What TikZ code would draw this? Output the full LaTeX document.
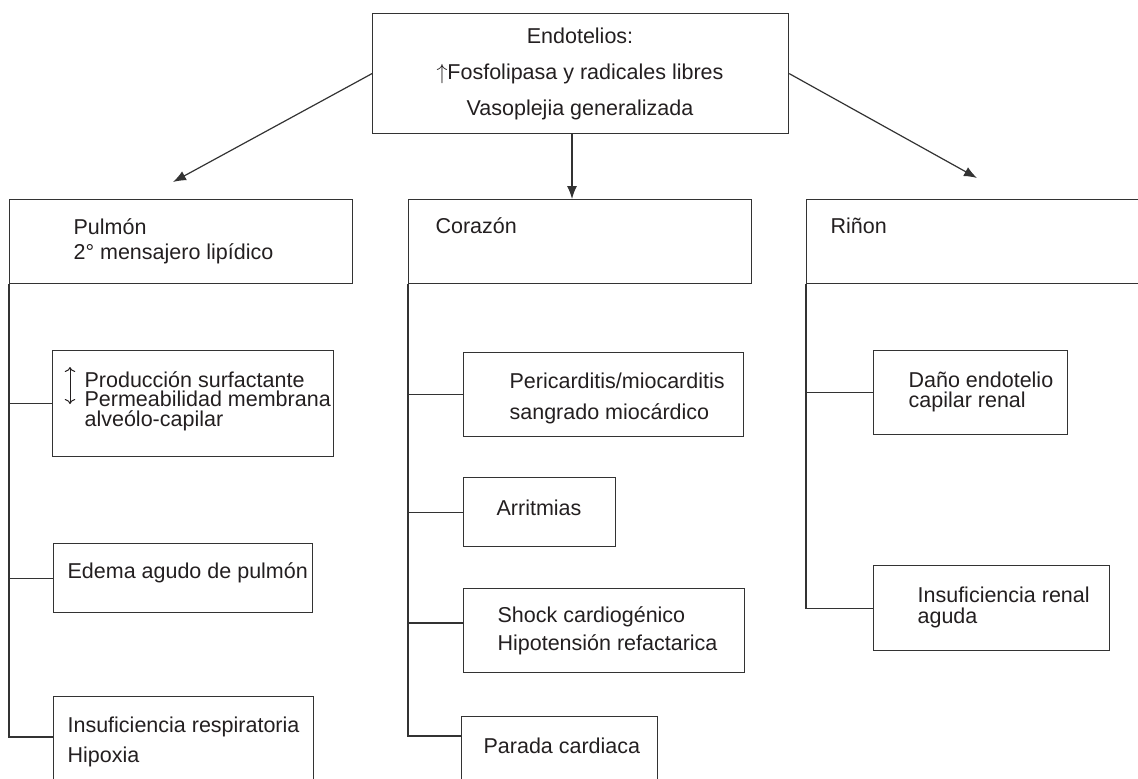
\documentclass[tikz,border=0pt]{standalone}
\usepackage{fontspec}
\setmainfont{Liberation Sans}
\usetikzlibrary{calc}
\usetikzlibrary{arrows.meta}
\usetikzlibrary{positioning}
\definecolor{LineGray}{HTML}{333333}
\definecolor{TextGray}{HTML}{231F20}
\tikzset{
  caja/.style={draw=LineGray, rectangle, inner sep=0pt, anchor=north west},
  texto/.style={font=\fontsize{10.75pt}{#1}\selectfont, text=TextGray,
    align=left, inner sep=0pt, anchor=base west},
  enlace/.style={draw=LineGray, line width=0.6pt},
  flecha/.style={enlace, -{Latex[length=6.5pt,width=5pt]}},
}

\begin{document}
\begin{tikzpicture}[x=0.5pt, y=-0.5pt, line width=0.6pt]
  \useasboundingbox (0,0) rectangle (1138,778);
  \clip (0,0) rectangle (1138,778);

  % cajas
  \node[caja, minimum width=208pt, minimum height=60pt] (endo) at (372,13) {};
  \node[caja, minimum width=171.5pt, minimum height=42pt] (pulmon) at (9,199) {};
  \node[caja, minimum width=171.5pt, minimum height=42pt] (corazon) at (408,199) {};
  \node[caja, minimum width=200pt, minimum height=42pt] (rinon) at (806,199) {};

  \node[caja, minimum width=140.5pt, minimum height=53pt] (surf) at (52,350) {};
  \node[caja, minimum width=129.5pt, minimum height=34.5pt] (edema) at (53,543) {};
  \node[caja, minimum width=130pt, minimum height=50pt] (insresp) at (53,696) {};

  \node[caja, minimum width=140pt, minimum height=42pt] (peri) at (463,352) {};
  \node[caja, minimum width=76pt, minimum height=34.5pt] (arrit) at (463,477) {};
  \node[caja, minimum width=140.5pt, minimum height=42pt] (shock) at (463,588) {};
  \node[caja, minimum width=98pt, minimum height=50pt] (parada) at (461,716) {};

  \node[caja, minimum width=97pt, minimum height=42pt] (dano) at (873,350) {};
  \node[caja, minimum width=118pt, minimum height=42.5pt] (insren) at (873,565) {};

  % textos (base = last line)
  \node[texto=18pt, align=center, anchor=base] (endoTxt) at (580,115)
    {Endotelios:\\$\uparrow$Fosfolipasa y radicales libres\\Vasoplejia generalizada};
  \node[texto=12.5pt] (pulmonTxt) at (73,259) {Pulmón\\2° mensajero lipídico};
  \node[texto=12.5pt] (corazonTxt) at (435,233) {Corazón};
  \node[texto=12.5pt] (rinonTxt) at (830,233) {Riñon};

  \node[texto=9.75pt] (surfTxt) at (84,426)
    {Producción surfactante\\Permeabilidad membrana\\alveólo-capilar};
  \draw[line width=0.5pt, draw=TextGray, {To[length=2.5pt]}-{To[length=2.5pt]}] (70,367) -- (70,404);
  \node[texto=12.5pt] (edemaTxt) at (67,578) {Edema agudo de pulmón};
  \node[texto=15pt] (insrespTxt) at (67,762) {Insuficiencia respiratoria\\Hipoxia};

  \node[texto=15.5pt] (periTxt) at (509,419) {Pericarditis/miocarditis\\sangrado miocárdico};
  \node[texto=12.5pt] (arritTxt) at (496,515) {Arritmias};
  \node[texto=14pt] (shockTxt) at (497,650) {Shock cardiogénico\\Hipotensión refactarica};
  \node[texto=12.5pt] (paradaTxt) at (483,753) {Parada cardiaca};

  \node[texto=10pt] (danoTxt) at (908,407) {Daño endotelio\\capilar renal};
  \node[texto=10.5pt] (insrenTxt) at (917,623) {Insuficiencia renal\\aguda};

  % flechas
  \coordinate (pulmonTip) at (173,182);
  \coordinate (corazonTip) at (572,199);
  \coordinate (rinonTip) at (977,178);
  \draw[flecha] (endo.west) -- (pulmonTip);
  \draw[flecha] (endo.south -| corazonTip) -- (corazonTip);
  \draw[flecha] (endo.east) -- (rinonTip);

  % ramas
  \draw[enlace] (pulmon.south west) |- ([shift={(0,41)}]insresp.north west);
  \foreach \b in {surf,edema}{%
    \draw[enlace] (\b.west) -- (\b.west -| pulmon.west);
  }
  \draw[enlace] (corazon.south west) |- ([shift={(0,20)}]parada.north west);
  \foreach \b in {peri,arrit}{%
    \draw[enlace] (\b.west) -- (\b.west -| corazon.west);
  }
  \coordinate (shockIn) at ([shift={(0,35)}]shock.north west);
  \draw[enlace] (shockIn) -- (shockIn -| corazon.west);
  \draw[enlace] (rinon.south west) |- (insren.west);
  \draw[enlace] (dano.west) -- (dano.west -| rinon.west);
\end{tikzpicture}
\end{document}
